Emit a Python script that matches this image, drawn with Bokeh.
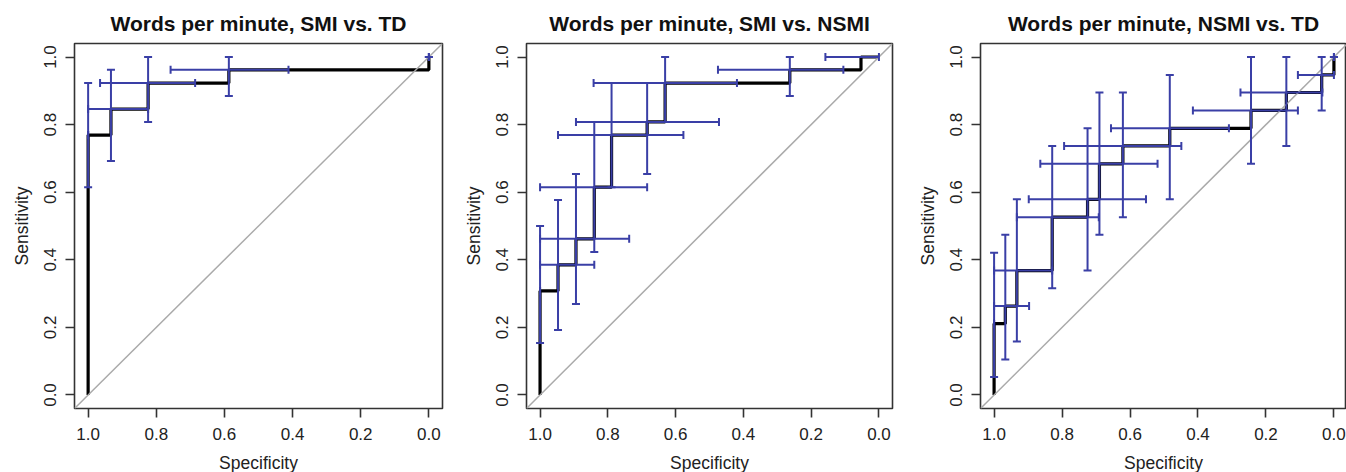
import math
from bokeh.plotting import figure
from bokeh.layouts import row
from bokeh.models import (ColumnDataSource, Whisker, TeeHead, Slope, FixedTicker,
                          PrintfTickFormatter, Range1d, Title)
from bokeh.embed import file_html
from bokeh.resources import INLINE

# ---------------- data ----------------
titles = ["Words per minute, SMI vs. TD",
          "Words per minute, SMI vs. NSMI",
          "Words per minute, NSMI vs. TD"]
tick_values = [0.0, 0.2, 0.4, 0.6, 0.8, 1.0]
x_label = "Specificity"
y_label = "Sensitivity"

# Panel 1: SMI vs TD
roc1_sp = [1.0, 1.0, 0.933, 0.933, 0.824, 0.824, 0.587, 0.587, 0.0, 0.0]
roc1_se = [0.0, 0.769, 0.769, 0.846, 0.846, 0.923, 0.923, 0.962, 0.962, 1.0]
ci1_sp = [1.0, 0.933, 0.824, 0.587, 0.0]
ci1_se = [0.769, 0.846, 0.923, 0.962, 1.0]
ci1_sp_lo = [1.0, 0.824, 0.686, 0.412, 0.0]
ci1_sp_hi = [1.0, 1.0, 0.965, 0.758, 0.0]
ci1_se_lo = [0.615, 0.692, 0.808, 0.885, 1.0]
ci1_se_hi = [0.923, 0.962, 1.0, 1.0, 1.0]

# Panel 2: SMI vs NSMI
roc2_sp = [1.0, 1.0, 0.947, 0.947, 0.894, 0.894, 0.840, 0.840, 0.789, 0.789,
           0.684, 0.684, 0.631, 0.631, 0.263, 0.263, 0.053, 0.053, 0.0]
roc2_se = [0.0, 0.308, 0.308, 0.385, 0.385, 0.462, 0.462, 0.615, 0.615, 0.769,
           0.769, 0.808, 0.808, 0.923, 0.923, 0.962, 0.962, 1.0, 1.0]
ci2_sp = [1.0, 0.947, 0.894, 0.840, 0.789, 0.684, 0.631, 0.263, 0.053]
ci2_se = [0.308, 0.385, 0.462, 0.615, 0.769, 0.808, 0.923, 0.962, 1.0]
ci2_sp_lo = [1.0, 0.840, 0.737, 0.684, 0.577, 0.472, 0.419, 0.105, 0.0]
ci2_sp_hi = [1.0, 1.0, 1.0, 1.0, 0.947, 0.894, 0.842, 0.475, 0.158]
ci2_se_lo = [0.154, 0.192, 0.269, 0.423, 0.615, 0.654, 0.808, 0.885, 1.0]
ci2_se_hi = [0.500, 0.577, 0.654, 0.808, 0.923, 0.923, 1.0, 1.0, 1.0]

# Panel 3: NSMI vs TD
roc3_sp = [1.0, 1.0, 0.967, 0.967, 0.933, 0.933, 0.829, 0.829, 0.725, 0.725,
           0.690, 0.690, 0.621, 0.621, 0.483, 0.483, 0.244, 0.244, 0.140, 0.140,
           0.036, 0.036, 0.0, 0.0]
roc3_se = [0.0, 0.211, 0.211, 0.263, 0.263, 0.368, 0.368, 0.526, 0.526, 0.579,
           0.579, 0.684, 0.684, 0.737, 0.737, 0.789, 0.789, 0.842, 0.842, 0.895,
           0.895, 0.947, 0.947, 1.0]
ci3_sp = [1.0, 0.967, 0.933, 0.829, 0.725, 0.690, 0.621, 0.483, 0.244, 0.140, 0.036, 0.0]
ci3_se = [0.211, 0.263, 0.368, 0.526, 0.579, 0.684, 0.737, 0.789, 0.842, 0.895, 0.947, 1.0]
ci3_sp_lo = [1.0, 0.897, 0.829, 0.692, 0.553, 0.519, 0.449, 0.309, 0.106, 0.034, 0.0, 0.0]
ci3_sp_hi = [1.0, 1.0, 1.0, 0.933, 0.898, 0.864, 0.794, 0.656, 0.415, 0.275, 0.106, 0.0]
ci3_se_lo = [0.053, 0.105, 0.158, 0.316, 0.368, 0.474, 0.526, 0.579, 0.684, 0.737, 0.842, 1.0]
ci3_se_hi = [0.421, 0.474, 0.579, 0.737, 0.789, 0.895, 0.895, 0.947, 1.0, 1.0, 1.0, 1.0]

FONT = "Liberation Sans"
BLUE = "#3a3fa6"
FRAME = "#333333"


def make_panel(title, roc_sp, roc_se, sp, se, sp_lo, sp_hi, se_lo, se_hi,
               left, right, frame_w, x_end):
    p = figure(frame_width=frame_w, frame_height=365,
               x_range=Range1d(1.04, x_end), y_range=Range1d(-0.04, 1.04),
               output_backend="svg", toolbar_location=None,
               min_border_left=left, min_border_right=right,
               min_border_top=43, min_border_bottom=64)
    p.title = Title(text=title, align="center", text_font=FONT,
                    text_font_size="21px", text_font_style="bold",
                    text_color="#111111", standoff=18)
    p.background_fill_color = "white"
    p.border_fill_color = "white"
    p.xgrid.visible = False
    p.ygrid.visible = False
    p.outline_line_color = FRAME
    p.outline_line_width = 1.6

    for ax in (p.xaxis[0], p.yaxis[0]):
        ax.ticker = FixedTicker(ticks=tick_values)
        ax.formatter = PrintfTickFormatter(format="%.1f")
        ax.axis_line_color = None
        ax.major_tick_out = 9
        ax.major_tick_in = 0
        ax.major_tick_line_color = FRAME
        ax.major_tick_line_width = 1.6
        ax.minor_tick_line_color = None
        ax.major_label_text_font = FONT
        ax.major_label_text_font_size = "17px"
        ax.major_label_text_color = "#222222"
        ax.axis_label_text_font = FONT
        ax.axis_label_text_font_size = "17.5px"
        ax.axis_label_text_font_style = "normal"
        ax.axis_label_text_color = "#222222"
    p.xaxis.axis_label = x_label
    p.yaxis.axis_label = y_label
    p.xaxis.major_label_standoff = 10
    p.xaxis.axis_label_standoff = 10
    p.yaxis.major_label_orientation = "parallel"
    p.yaxis.major_label_standoff = 9
    p.yaxis.axis_label_standoff = 10

    p.add_layout(Slope(gradient=-1, y_intercept=1, line_color="#aaaaaa", line_width=1.5))

    p.line(roc_sp, roc_se, line_color="black", line_width=3.2)

    src = ColumnDataSource(dict(sp=sp, se=se, sp_lo=sp_lo, sp_hi=sp_hi,
                                se_lo=se_lo, se_hi=se_hi))

    def head():
        return TeeHead(size=8, line_color=BLUE, line_width=2)

    wv = Whisker(source=src, base="sp", lower="se_lo", upper="se_hi", dimension="height",
                 line_color=BLUE, line_width=2, lower_head=head(), upper_head=head(),
                 level="overlay")
    wh = Whisker(source=src, base="se", lower="sp_lo", upper="sp_hi", dimension="width",
                 line_color=BLUE, line_width=2, lower_head=head(), upper_head=head(),
                 level="overlay")
    p.add_layout(wv)
    p.add_layout(wh)
    return p


p1 = make_panel(titles[0], roc1_sp, roc1_se, ci1_sp, ci1_se, ci1_sp_lo, ci1_sp_hi,
                ci1_se_lo, ci1_se_hi, left=74, right=12, frame_w=368, x_end=-0.04)
p2 = make_panel(titles[1], roc2_sp, roc2_se, ci2_sp, ci2_se, ci2_sp_lo, ci2_sp_hi,
                ci2_se_lo, ci2_se_hi, left=72, right=12, frame_w=366, x_end=-0.04)
p3 = make_panel(titles[2], roc3_sp, roc3_se, ci3_sp, ci3_se, ci3_sp_lo, ci3_sp_hi,
                ci3_se_lo, ci3_se_hi, left=76, right=0, frame_w=366, x_end=-0.037)

layout = row(p1, p2, p3)
open("out.html", "w").write(file_html(layout, INLINE))
